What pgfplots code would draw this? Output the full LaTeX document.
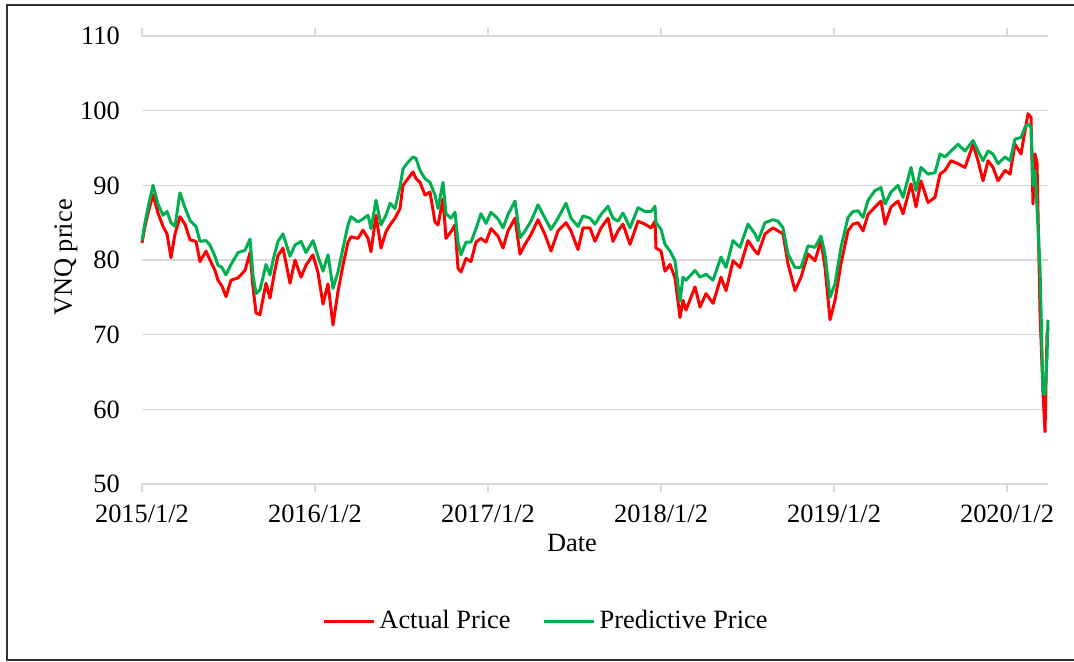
\documentclass[border=0pt]{standalone}
\usepackage{pgfplots}
\pgfplotsset{compat=1.18}
\usepackage{fontspec}
\setmainfont{Liberation Serif}
\definecolor{actred}{HTML}{FF0000}
\definecolor{predgreen}{HTML}{00B050}
\definecolor{gridgray}{HTML}{D9D9D9}
\begin{document}
\begin{tikzpicture}
\path[use as bounding box] (-71pt,-88.5pt) rectangle (466pt,242pt);
\draw[line width=1pt, color=black!80] (466pt,239.5pt) -- (-67.5pt,239.5pt) -- (-67.5pt,-88pt) -- (466pt,-88pt);
\begin{axis}[
  at={(0pt,0pt)}, anchor=south west,
  scale only axis, width=453pt, height=224pt,
  xmin=142, xmax=1048, ymin=50, ymax=110,
  xtick={142,315,488,661,834,1007},
  xticklabels={2015/1/2,2016/1/2,2017/1/2,2018/1/2,2019/1/2,2020/1/2},
  ytick={50,60,...,110},
  ymajorgrids, major grid style={color=gridgray, line width=0.75pt},
  axis line style={draw=none},
  tick align=outside,
  xtick style={color=gridgray, line width=0.75pt},
  major tick length=4pt,
  ytick style={draw=none},
  /pgf/number format/assume math mode=true,
  tick label style={font=\fontsize{13.2}{15}\selectfont},
  yticklabel style={xshift=-3.6pt},
  xticklabel style={yshift=-3pt},
  xlabel={Date},
  xlabel style={at={(axis description cs:0.4746,-0.1317)}, anchor=center, font=\fontsize{13.2}{15}\selectfont},
  ylabel={VNQ price},
  ylabel style={at={(axis description cs:-0.0839,0.5056)}, anchor=center, font=\fontsize{13.2}{15}\selectfont},
  legend columns=2,
  legend style={at={(axis description cs:0.447,-0.3058)}, anchor=center, draw=none, fill=none,
    font=\fontsize{13.2}{15}\selectfont, /tikz/every even column/.append style={column sep=14pt}},
  legend image code/.code={\draw[#1, line width=1.5pt] (0pt,0pt) -- (25pt,0pt);},
  clip=false,
]
\addplot[color=actred, line width=1.5pt, line join=round] coordinates {
(142,82.3)(145,84.5)(148,86.3)(153,88.7)(158,86.3)(163,84.5)(167,83.5)(171,80.3)(175,83.5)(180,85.8)
(185,84.8)(190,82.7)(196,82.5)(200,79.8)(206,81.2)(210,80.0)(215,78.6)(218,77.3)(222,76.5)(226,75.1)
(231,77.3)(238,77.6)(245,78.6)(250,81.0)(253,76.4)(256,72.9)(260,72.7)(266,76.9)(270,74.9)(274,78.0)
(278,80.6)(283,81.6)(290,76.9)(295,80.0)(301,77.7)(306,79.3)(313,80.7)(318,78.3)(323,74.1)(328,76.8)
(333,71.3)(338,75.8)(343,79.3)(348,82.4)(351,83.1)(358,82.9)(363,84.0)(368,82.9)(371,81.1)(376,86.0)
(381,81.6)(386,83.8)(390,84.7)(395,85.6)(400,86.9)(403,90.0)(408,90.9)(413,91.8)(416,90.9)(420,90.4)
(425,88.7)(430,89.1)(435,85.1)(438,84.7)(443,88.2)(446,82.9)(451,83.8)(455,84.7)(458,78.9)(461,78.4)
(466,80.2)(471,79.8)(476,82.4)(481,82.9)(486,82.4)(491,84.2)(498,83.2)(503,81.6)(508,83.9)(515,85.6)
(520,80.8)(525,82.1)(531,83.4)(538,85.4)(545,83.4)(551,81.2)(558,83.9)(566,85.0)(571,83.9)(578,81.4)
(583,84.3)(590,84.3)(595,82.5)(601,84.3)(608,85.6)(613,82.5)(618,83.9)(623,84.8)(630,82.1)(638,85.2)
(645,84.8)(651,84.3)(655,85.2)(656,81.6)(661,81.2)(665,78.5)(670,79.4)(675,77.6)(680,72.3)(683,74.6)
(686,73.3)(695,76.4)(700,73.7)(706,75.5)(713,74.2)(721,77.7)(726,75.9)(733,79.9)(740,79.0)(748,82.6)
(755,81.2)(758,80.8)(765,83.5)(773,84.3)(778,83.9)(783,83.5)(788,79.5)(795,75.9)(801,77.7)(808,80.8)
(815,79.9)(821,82.6)(825,79.0)(830,72.0)(835,74.6)(841,79.5)(848,83.9)(853,84.8)(858,85.0)(863,83.9)
(868,86.1)(875,87.1)(881,87.9)(885,84.8)(891,87.1)(898,87.9)(903,86.2)(911,90.2)(916,87.1)(921,90.6)
(928,87.7)(935,88.4)(940,91.5)(945,92.0)(951,93.3)(958,92.9)(965,92.4)(973,95.5)(978,93.3)(983,90.6)
(988,93.3)(993,92.4)(998,90.6)(1005,92.0)(1010,91.5)(1015,95.5)(1021,94.2)(1025,97.3)(1028,99.6)(1031,99.1)
(1033,87.5)(1035,94.2)(1037,93.0)(1040,73.0)(1043,62.2)(1045,57.0)(1047,70.0)(1048,71.0)
};
\addlegendentry{Actual Price}
\addplot[color=predgreen, line width=1.5pt, line join=round] coordinates {
(142,82.6)(145,85.0)(148,87.0)(153,90.0)(158,87.5)(163,86.0)(167,86.5)(171,85.0)(175,84.5)(180,89.0)
(185,87.0)(190,85.3)(196,84.5)(200,82.5)(206,82.6)(210,82.0)(215,80.5)(218,79.3)(222,79.0)(226,78.0)
(231,79.4)(238,81.0)(245,81.3)(250,82.8)(253,78.0)(256,75.5)(260,76.0)(266,79.4)(270,78.0)(274,80.5)
(278,82.5)(283,83.5)(290,80.5)(295,82.0)(301,82.5)(306,81.0)(313,82.6)(318,80.5)(323,78.5)(328,80.7)
(333,76.2)(338,78.4)(343,81.6)(348,84.7)(351,85.8)(358,85.1)(363,85.5)(368,86.0)(371,84.2)(376,88.0)
(381,84.7)(386,86.0)(390,87.6)(395,86.9)(400,89.8)(403,92.2)(408,93.1)(413,93.8)(416,93.6)(420,92.0)
(425,90.9)(430,90.4)(435,88.7)(438,86.9)(443,90.4)(446,86.2)(451,85.6)(455,86.4)(458,82.4)(461,80.7)
(466,82.4)(471,82.4)(476,84.2)(481,86.2)(486,84.9)(491,86.4)(498,85.5)(503,84.3)(508,86.1)(515,87.9)
(520,83.0)(525,83.9)(531,85.2)(538,87.4)(545,85.6)(551,84.1)(558,85.6)(566,87.6)(571,85.6)(578,84.5)
(583,85.9)(590,85.6)(595,84.8)(601,86.1)(608,87.2)(613,85.6)(618,85.2)(623,86.3)(630,84.3)(638,87.0)
(645,86.5)(651,86.5)(655,87.2)(656,85.0)(661,84.1)(665,82.1)(670,81.2)(675,79.9)(680,74.5)(683,77.7)
(686,77.3)(695,78.6)(700,77.7)(706,78.1)(713,77.3)(721,80.4)(726,79.0)(733,82.6)(740,81.7)(748,84.8)
(755,83.5)(758,82.6)(765,85.0)(773,85.4)(778,85.2)(783,84.3)(788,80.8)(795,79.0)(801,79.0)(808,81.9)
(815,81.7)(821,83.2)(825,80.8)(830,75.0)(835,76.8)(841,81.7)(848,85.7)(853,86.5)(858,86.6)(863,85.7)
(868,88.0)(875,89.3)(881,89.7)(885,87.5)(891,89.1)(898,90.0)(903,88.4)(911,92.4)(916,89.3)(921,92.4)
(928,91.5)(935,91.7)(940,94.2)(945,93.8)(951,94.6)(958,95.5)(965,94.6)(973,96.0)(978,94.6)(983,93.3)
(988,94.6)(993,94.2)(998,92.9)(1005,93.8)(1010,93.3)(1015,96.2)(1021,96.4)(1025,97.8)(1028,98.2)(1031,97.8)
(1033,90.0)(1035,92.0)(1037,87.0)(1040,79.0)(1043,62.2)(1045,62.0)(1047,67.0)(1048,72.0)
};
\addlegendentry{Predictive Price}
\end{axis}
\end{tikzpicture}
\end{document}
